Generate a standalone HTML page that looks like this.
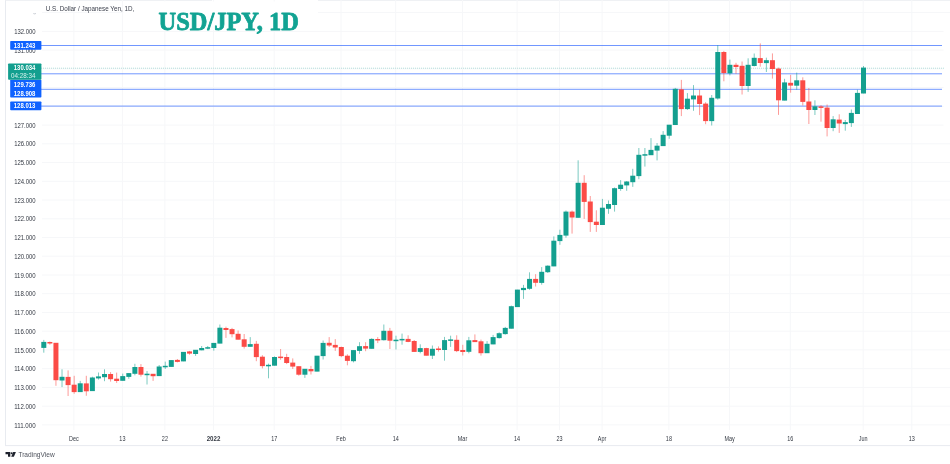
<!DOCTYPE html>
<html><head><meta charset="utf-8"><title>USD/JPY, 1D</title>
<style>html,body{margin:0;padding:0;background:#fff;}body{width:950px;height:464px;overflow:hidden;font-family:"Liberation Sans",sans-serif;}svg{display:block;}text{font-family:"Liberation Sans",sans-serif;}</style>
</head><body>
<svg width="950" height="464" viewBox="0 0 950 464">
<defs><filter id="b" x="0" y="0" width="100%" height="100%" filterUnits="userSpaceOnUse" color-interpolation-filters="sRGB"><feGaussianBlur stdDeviation="0.38"/></filter></defs>
<rect width="950" height="464" fill="#fff"/>
<g filter="url(#b)">
<rect width="950" height="464" fill="#fff"/>
<g stroke="#e8ebf0" stroke-width="1" fill="none">
<line x1="5.5" y1="0" x2="5.5" y2="445.6"/>
<line x1="5" y1="445.6" x2="950" y2="445.6"/>
<line x1="5" y1="0.3" x2="212" y2="0.3" stroke="#eceef2"/>
<line x1="318" y1="0.3" x2="950" y2="0.3" stroke="#eceef2"/>
</g>
<g stroke="#f6f7f9" stroke-width="1">
<line x1="42" y1="424.9" x2="950" y2="424.9"/>
<line x1="42" y1="406.2" x2="950" y2="406.2"/>
<line x1="42" y1="387.4" x2="950" y2="387.4"/>
<line x1="42" y1="368.7" x2="950" y2="368.7"/>
<line x1="42" y1="349.9" x2="950" y2="349.9"/>
<line x1="42" y1="331.2" x2="950" y2="331.2"/>
<line x1="42" y1="312.5" x2="950" y2="312.5"/>
<line x1="42" y1="293.7" x2="950" y2="293.7"/>
<line x1="42" y1="275.0" x2="950" y2="275.0"/>
<line x1="42" y1="256.2" x2="950" y2="256.2"/>
<line x1="42" y1="237.5" x2="950" y2="237.5"/>
<line x1="42" y1="218.8" x2="950" y2="218.8"/>
<line x1="42" y1="200.0" x2="950" y2="200.0"/>
<line x1="42" y1="181.3" x2="950" y2="181.3"/>
<line x1="42" y1="162.5" x2="950" y2="162.5"/>
<line x1="42" y1="143.8" x2="950" y2="143.8"/>
<line x1="42" y1="125.1" x2="943.5" y2="125.1"/>
<line x1="42" y1="106.3" x2="943.5" y2="106.3"/>
<line x1="42" y1="87.6" x2="943.5" y2="87.6"/>
<line x1="42" y1="68.8" x2="943.5" y2="68.8"/>
<line x1="42" y1="50.1" x2="943.5" y2="50.1"/>
<line x1="42" y1="31.4" x2="943.5" y2="31.4"/>
<line x1="42" y1="12.6" x2="950" y2="12.6"/>
<line x1="73.9" y1="0" x2="73.9" y2="430"/>
<line x1="122.4" y1="0" x2="122.4" y2="430"/>
<line x1="164.9" y1="0" x2="164.9" y2="430"/>
<line x1="213.5" y1="0" x2="213.5" y2="430"/>
<line x1="274.2" y1="0" x2="274.2" y2="430"/>
<line x1="341.0" y1="0" x2="341.0" y2="430"/>
<line x1="395.7" y1="0" x2="395.7" y2="430"/>
<line x1="462.5" y1="0" x2="462.5" y2="430"/>
<line x1="517.1" y1="0" x2="517.1" y2="430"/>
<line x1="559.6" y1="0" x2="559.6" y2="430"/>
<line x1="602.1" y1="0" x2="602.1" y2="430"/>
<line x1="668.9" y1="0" x2="668.9" y2="430"/>
<line x1="729.6" y1="0" x2="729.6" y2="430"/>
<line x1="790.3" y1="0" x2="790.3" y2="430"/>
<line x1="863.2" y1="0" x2="863.2" y2="430"/>
<line x1="911.8" y1="0" x2="911.8" y2="430"/>
</g>
<g stroke="#2962ff" stroke-width="1" opacity="0.66">
<line x1="41" y1="45.5" x2="942" y2="45.5"/>
<line x1="41" y1="73.8" x2="942" y2="73.8"/>
<line x1="41" y1="89.3" x2="942" y2="89.3"/>
<line x1="41" y1="106.1" x2="942" y2="106.1"/>
</g>
<line x1="41" y1="68.2" x2="944" y2="68.2" stroke="#139f8f" stroke-width="1" stroke-dasharray="1 1" opacity="0.3"/>
<line x1="43.80" y1="339.9" x2="43.80" y2="352.7" stroke="#139f8f" stroke-width="0.9" opacity="0.62"/>
<rect x="41.30" y="341.9" width="5.0" height="6.0" fill="#139f8f"/>
<line x1="49.87" y1="341.5" x2="49.87" y2="344.7" stroke="#fb4b46" stroke-width="0.9" opacity="0.62"/>
<rect x="47.37" y="342.0" width="5.0" height="1.5" fill="#fb4b46"/>
<line x1="55.94" y1="343.0" x2="55.94" y2="385.8" stroke="#fb4b46" stroke-width="0.9" opacity="0.62"/>
<rect x="53.44" y="342.8" width="5.0" height="37.4" fill="#fb4b46"/>
<line x1="62.02" y1="369.3" x2="62.02" y2="387.1" stroke="#139f8f" stroke-width="0.9" opacity="0.62"/>
<rect x="59.52" y="376.8" width="5.0" height="3.7" fill="#139f8f"/>
<line x1="68.09" y1="370.4" x2="68.09" y2="396.0" stroke="#fb4b46" stroke-width="0.9" opacity="0.62"/>
<rect x="65.59" y="376.9" width="5.0" height="8.2" fill="#fb4b46"/>
<line x1="74.16" y1="375.8" x2="74.16" y2="393.8" stroke="#fb4b46" stroke-width="0.9" opacity="0.62"/>
<rect x="71.66" y="384.7" width="5.0" height="7.4" fill="#fb4b46"/>
<line x1="80.23" y1="380.9" x2="80.23" y2="391.9" stroke="#139f8f" stroke-width="0.9" opacity="0.62"/>
<rect x="77.73" y="383.3" width="5.0" height="8.8" fill="#139f8f"/>
<line x1="86.30" y1="375.8" x2="86.30" y2="395.8" stroke="#fb4b46" stroke-width="0.9" opacity="0.62"/>
<rect x="83.80" y="383.4" width="5.0" height="7.9" fill="#fb4b46"/>
<line x1="92.38" y1="376.7" x2="92.38" y2="390.9" stroke="#139f8f" stroke-width="0.9" opacity="0.62"/>
<rect x="89.88" y="377.5" width="5.0" height="13.6" fill="#139f8f"/>
<line x1="98.45" y1="372.5" x2="98.45" y2="379.6" stroke="#139f8f" stroke-width="0.9" opacity="0.62"/>
<rect x="95.95" y="376.4" width="5.0" height="2.0" fill="#139f8f"/>
<line x1="104.52" y1="369.3" x2="104.52" y2="381.2" stroke="#139f8f" stroke-width="0.9" opacity="0.62"/>
<rect x="102.02" y="374.0" width="5.0" height="3.2" fill="#139f8f"/>
<line x1="110.59" y1="372.1" x2="110.59" y2="381.6" stroke="#fb4b46" stroke-width="0.9" opacity="0.62"/>
<rect x="108.09" y="374.0" width="5.0" height="5.2" fill="#fb4b46"/>
<line x1="116.66" y1="372.6" x2="116.66" y2="382.9" stroke="#fb4b46" stroke-width="0.9" opacity="0.62"/>
<rect x="114.16" y="378.7" width="5.0" height="2.3" fill="#fb4b46"/>
<line x1="122.73" y1="373.6" x2="122.73" y2="380.6" stroke="#139f8f" stroke-width="0.9" opacity="0.62"/>
<rect x="120.23" y="376.1" width="5.0" height="4.7" fill="#139f8f"/>
<line x1="128.81" y1="373.3" x2="128.81" y2="378.8" stroke="#139f8f" stroke-width="0.9" opacity="0.62"/>
<rect x="126.31" y="373.1" width="5.0" height="3.8" fill="#139f8f"/>
<line x1="134.88" y1="363.8" x2="134.88" y2="375.3" stroke="#139f8f" stroke-width="0.9" opacity="0.62"/>
<rect x="132.38" y="367.0" width="5.0" height="6.8" fill="#139f8f"/>
<line x1="140.95" y1="364.1" x2="140.95" y2="376.6" stroke="#fb4b46" stroke-width="0.9" opacity="0.62"/>
<rect x="138.45" y="367.0" width="5.0" height="7.7" fill="#fb4b46"/>
<line x1="147.02" y1="371.0" x2="147.02" y2="384.5" stroke="#139f8f" stroke-width="0.9" opacity="0.62"/>
<rect x="144.52" y="373.7" width="5.0" height="1.5" fill="#139f8f"/>
<line x1="153.09" y1="374.1" x2="153.09" y2="380.9" stroke="#fb4b46" stroke-width="0.9" opacity="0.62"/>
<rect x="150.59" y="373.8" width="5.0" height="2.4" fill="#fb4b46"/>
<line x1="159.17" y1="365.0" x2="159.17" y2="375.9" stroke="#139f8f" stroke-width="0.9" opacity="0.62"/>
<rect x="156.67" y="366.5" width="5.0" height="9.6" fill="#139f8f"/>
<line x1="165.24" y1="361.6" x2="165.24" y2="369.0" stroke="#139f8f" stroke-width="0.9" opacity="0.62"/>
<rect x="162.74" y="365.8" width="5.0" height="1.5" fill="#139f8f"/>
<line x1="171.31" y1="360.3" x2="171.31" y2="366.7" stroke="#139f8f" stroke-width="0.9" opacity="0.62"/>
<rect x="168.81" y="360.1" width="5.0" height="6.8" fill="#139f8f"/>
<line x1="177.38" y1="359.0" x2="177.38" y2="362.4" stroke="#fb4b46" stroke-width="0.9" opacity="0.62"/>
<rect x="174.88" y="359.9" width="5.0" height="2.0" fill="#fb4b46"/>
<line x1="183.45" y1="352.1" x2="183.45" y2="361.2" stroke="#139f8f" stroke-width="0.9" opacity="0.62"/>
<rect x="180.95" y="351.9" width="5.0" height="9.5" fill="#139f8f"/>
<line x1="189.53" y1="350.9" x2="189.53" y2="354.7" stroke="#fb4b46" stroke-width="0.9" opacity="0.62"/>
<rect x="187.03" y="351.4" width="5.0" height="2.2" fill="#fb4b46"/>
<line x1="195.60" y1="350.0" x2="195.60" y2="355.9" stroke="#139f8f" stroke-width="0.9" opacity="0.62"/>
<rect x="193.10" y="349.8" width="5.0" height="4.2" fill="#139f8f"/>
<line x1="201.67" y1="346.0" x2="201.67" y2="350.3" stroke="#139f8f" stroke-width="0.9" opacity="0.62"/>
<rect x="199.17" y="348.0" width="5.0" height="2.3" fill="#139f8f"/>
<line x1="207.74" y1="346.0" x2="207.74" y2="349.1" stroke="#139f8f" stroke-width="0.9" opacity="0.62"/>
<rect x="205.24" y="347.2" width="5.0" height="1.5" fill="#139f8f"/>
<line x1="213.81" y1="343.1" x2="213.81" y2="350.7" stroke="#139f8f" stroke-width="0.9" opacity="0.62"/>
<rect x="211.31" y="342.9" width="5.0" height="5.1" fill="#139f8f"/>
<line x1="219.89" y1="324.5" x2="219.89" y2="343.4" stroke="#139f8f" stroke-width="0.9" opacity="0.62"/>
<rect x="217.39" y="327.7" width="5.0" height="15.9" fill="#139f8f"/>
<line x1="225.96" y1="326.7" x2="225.96" y2="337.9" stroke="#fb4b46" stroke-width="0.9" opacity="0.62"/>
<rect x="223.46" y="328.0" width="5.0" height="2.0" fill="#fb4b46"/>
<line x1="232.03" y1="327.9" x2="232.03" y2="337.4" stroke="#fb4b46" stroke-width="0.9" opacity="0.62"/>
<rect x="229.53" y="329.1" width="5.0" height="5.1" fill="#fb4b46"/>
<line x1="238.10" y1="330.5" x2="238.10" y2="339.5" stroke="#fb4b46" stroke-width="0.9" opacity="0.62"/>
<rect x="235.60" y="333.8" width="5.0" height="5.9" fill="#fb4b46"/>
<line x1="244.17" y1="334.0" x2="244.17" y2="348.6" stroke="#fb4b46" stroke-width="0.9" opacity="0.62"/>
<rect x="241.67" y="339.3" width="5.0" height="7.5" fill="#fb4b46"/>
<line x1="250.24" y1="337.1" x2="250.24" y2="346.6" stroke="#139f8f" stroke-width="0.9" opacity="0.62"/>
<rect x="247.74" y="344.1" width="5.0" height="2.7" fill="#139f8f"/>
<line x1="256.32" y1="340.9" x2="256.32" y2="361.2" stroke="#fb4b46" stroke-width="0.9" opacity="0.62"/>
<rect x="253.82" y="343.8" width="5.0" height="13.3" fill="#fb4b46"/>
<line x1="262.39" y1="355.2" x2="262.39" y2="368.4" stroke="#fb4b46" stroke-width="0.9" opacity="0.62"/>
<rect x="259.89" y="356.7" width="5.0" height="9.4" fill="#fb4b46"/>
<line x1="268.46" y1="363.6" x2="268.46" y2="378.3" stroke="#139f8f" stroke-width="0.9" opacity="0.62"/>
<rect x="265.96" y="364.8" width="5.0" height="1.5" fill="#139f8f"/>
<line x1="274.53" y1="356.4" x2="274.53" y2="365.5" stroke="#139f8f" stroke-width="0.9" opacity="0.62"/>
<rect x="272.03" y="357.0" width="5.0" height="8.7" fill="#139f8f"/>
<line x1="280.60" y1="349.0" x2="280.60" y2="359.8" stroke="#fb4b46" stroke-width="0.9" opacity="0.62"/>
<rect x="278.10" y="356.6" width="5.0" height="1.5" fill="#fb4b46"/>
<line x1="286.68" y1="353.8" x2="286.68" y2="364.1" stroke="#fb4b46" stroke-width="0.9" opacity="0.62"/>
<rect x="284.18" y="357.0" width="5.0" height="6.0" fill="#fb4b46"/>
<line x1="292.75" y1="358.4" x2="292.75" y2="369.0" stroke="#fb4b46" stroke-width="0.9" opacity="0.62"/>
<rect x="290.25" y="362.6" width="5.0" height="4.0" fill="#fb4b46"/>
<line x1="298.82" y1="366.4" x2="298.82" y2="375.7" stroke="#fb4b46" stroke-width="0.9" opacity="0.62"/>
<rect x="296.32" y="366.2" width="5.0" height="8.5" fill="#fb4b46"/>
<line x1="304.89" y1="369.0" x2="304.89" y2="377.9" stroke="#139f8f" stroke-width="0.9" opacity="0.62"/>
<rect x="302.39" y="368.8" width="5.0" height="5.9" fill="#139f8f"/>
<line x1="310.96" y1="365.9" x2="310.96" y2="374.5" stroke="#fb4b46" stroke-width="0.9" opacity="0.62"/>
<rect x="308.46" y="369.0" width="5.0" height="2.3" fill="#fb4b46"/>
<line x1="317.04" y1="355.9" x2="317.04" y2="371.4" stroke="#139f8f" stroke-width="0.9" opacity="0.62"/>
<rect x="314.54" y="355.7" width="5.0" height="15.9" fill="#139f8f"/>
<line x1="323.11" y1="340.5" x2="323.11" y2="359.5" stroke="#139f8f" stroke-width="0.9" opacity="0.62"/>
<rect x="320.61" y="342.9" width="5.0" height="13.2" fill="#139f8f"/>
<line x1="329.18" y1="337.1" x2="329.18" y2="346.9" stroke="#fb4b46" stroke-width="0.9" opacity="0.62"/>
<rect x="326.68" y="342.8" width="5.0" height="2.7" fill="#fb4b46"/>
<line x1="335.25" y1="339.1" x2="335.25" y2="350.9" stroke="#fb4b46" stroke-width="0.9" opacity="0.62"/>
<rect x="332.75" y="344.9" width="5.0" height="2.6" fill="#fb4b46"/>
<line x1="341.32" y1="346.6" x2="341.32" y2="357.2" stroke="#fb4b46" stroke-width="0.9" opacity="0.62"/>
<rect x="338.82" y="347.0" width="5.0" height="9.1" fill="#fb4b46"/>
<line x1="347.40" y1="354.3" x2="347.40" y2="365.3" stroke="#fb4b46" stroke-width="0.9" opacity="0.62"/>
<rect x="344.90" y="355.7" width="5.0" height="5.2" fill="#fb4b46"/>
<line x1="353.47" y1="350.3" x2="353.47" y2="362.4" stroke="#139f8f" stroke-width="0.9" opacity="0.62"/>
<rect x="350.97" y="350.1" width="5.0" height="11.1" fill="#139f8f"/>
<line x1="359.54" y1="342.2" x2="359.54" y2="353.8" stroke="#139f8f" stroke-width="0.9" opacity="0.62"/>
<rect x="357.04" y="346.2" width="5.0" height="4.7" fill="#139f8f"/>
<line x1="365.61" y1="342.2" x2="365.61" y2="351.2" stroke="#fb4b46" stroke-width="0.9" opacity="0.62"/>
<rect x="363.11" y="346.1" width="5.0" height="2.5" fill="#fb4b46"/>
<line x1="371.68" y1="338.3" x2="371.68" y2="348.6" stroke="#139f8f" stroke-width="0.9" opacity="0.62"/>
<rect x="369.18" y="338.9" width="5.0" height="9.9" fill="#139f8f"/>
<line x1="377.75" y1="337.1" x2="377.75" y2="343.1" stroke="#fb4b46" stroke-width="0.9" opacity="0.62"/>
<rect x="375.25" y="339.0" width="5.0" height="1.5" fill="#fb4b46"/>
<line x1="383.83" y1="324.5" x2="383.83" y2="340.5" stroke="#139f8f" stroke-width="0.9" opacity="0.62"/>
<rect x="381.33" y="330.8" width="5.0" height="9.4" fill="#139f8f"/>
<line x1="389.90" y1="327.9" x2="389.90" y2="349.0" stroke="#fb4b46" stroke-width="0.9" opacity="0.62"/>
<rect x="387.40" y="330.8" width="5.0" height="9.9" fill="#fb4b46"/>
<line x1="395.97" y1="335.7" x2="395.97" y2="349.5" stroke="#139f8f" stroke-width="0.9" opacity="0.62"/>
<rect x="393.47" y="339.7" width="5.0" height="1.5" fill="#139f8f"/>
<line x1="402.04" y1="333.6" x2="402.04" y2="344.7" stroke="#139f8f" stroke-width="0.9" opacity="0.62"/>
<rect x="399.54" y="338.9" width="5.0" height="1.5" fill="#139f8f"/>
<line x1="408.11" y1="335.3" x2="408.11" y2="342.2" stroke="#fb4b46" stroke-width="0.9" opacity="0.62"/>
<rect x="405.61" y="338.9" width="5.0" height="3.0" fill="#fb4b46"/>
<line x1="414.19" y1="340.0" x2="414.19" y2="351.7" stroke="#fb4b46" stroke-width="0.9" opacity="0.62"/>
<rect x="411.69" y="341.0" width="5.0" height="10.9" fill="#fb4b46"/>
<line x1="420.26" y1="344.3" x2="420.26" y2="353.3" stroke="#139f8f" stroke-width="0.9" opacity="0.62"/>
<rect x="417.76" y="348.1" width="5.0" height="3.8" fill="#139f8f"/>
<line x1="426.33" y1="347.8" x2="426.33" y2="355.5" stroke="#fb4b46" stroke-width="0.9" opacity="0.62"/>
<rect x="423.83" y="348.1" width="5.0" height="7.6" fill="#fb4b46"/>
<line x1="432.40" y1="345.5" x2="432.40" y2="359.0" stroke="#139f8f" stroke-width="0.9" opacity="0.62"/>
<rect x="429.90" y="348.8" width="5.0" height="6.9" fill="#139f8f"/>
<line x1="438.47" y1="346.4" x2="438.47" y2="351.6" stroke="#fb4b46" stroke-width="0.9" opacity="0.62"/>
<rect x="435.97" y="348.5" width="5.0" height="1.5" fill="#fb4b46"/>
<line x1="444.55" y1="336.9" x2="444.55" y2="360.7" stroke="#139f8f" stroke-width="0.9" opacity="0.62"/>
<rect x="442.05" y="340.1" width="5.0" height="9.9" fill="#139f8f"/>
<line x1="450.62" y1="335.7" x2="450.62" y2="346.9" stroke="#139f8f" stroke-width="0.9" opacity="0.62"/>
<rect x="448.12" y="339.4" width="5.0" height="1.5" fill="#139f8f"/>
<line x1="456.69" y1="335.3" x2="456.69" y2="352.1" stroke="#fb4b46" stroke-width="0.9" opacity="0.62"/>
<rect x="454.19" y="339.8" width="5.0" height="11.3" fill="#fb4b46"/>
<line x1="462.76" y1="344.8" x2="462.76" y2="355.5" stroke="#fb4b46" stroke-width="0.9" opacity="0.62"/>
<rect x="460.26" y="350.0" width="5.0" height="2.0" fill="#fb4b46"/>
<line x1="468.83" y1="336.9" x2="468.83" y2="353.3" stroke="#139f8f" stroke-width="0.9" opacity="0.62"/>
<rect x="466.33" y="340.3" width="5.0" height="11.5" fill="#139f8f"/>
<line x1="474.90" y1="334.4" x2="474.90" y2="341.8" stroke="#fb4b46" stroke-width="0.9" opacity="0.62"/>
<rect x="472.40" y="340.1" width="5.0" height="2.0" fill="#fb4b46"/>
<line x1="480.98" y1="339.6" x2="480.98" y2="355.6" stroke="#fb4b46" stroke-width="0.9" opacity="0.62"/>
<rect x="478.48" y="341.3" width="5.0" height="11.9" fill="#fb4b46"/>
<line x1="487.05" y1="341.1" x2="487.05" y2="353.0" stroke="#139f8f" stroke-width="0.9" opacity="0.62"/>
<rect x="484.55" y="343.8" width="5.0" height="9.4" fill="#139f8f"/>
<line x1="493.12" y1="334.9" x2="493.12" y2="344.2" stroke="#139f8f" stroke-width="0.9" opacity="0.62"/>
<rect x="490.62" y="337.1" width="5.0" height="7.3" fill="#139f8f"/>
<line x1="499.19" y1="332.3" x2="499.19" y2="338.6" stroke="#139f8f" stroke-width="0.9" opacity="0.62"/>
<rect x="496.69" y="333.2" width="5.0" height="4.9" fill="#139f8f"/>
<line x1="505.26" y1="326.9" x2="505.26" y2="334.7" stroke="#139f8f" stroke-width="0.9" opacity="0.62"/>
<rect x="502.76" y="327.9" width="5.0" height="6.2" fill="#139f8f"/>
<line x1="511.34" y1="305.6" x2="511.34" y2="328.5" stroke="#139f8f" stroke-width="0.9" opacity="0.62"/>
<rect x="508.84" y="306.2" width="5.0" height="22.5" fill="#139f8f"/>
<line x1="517.41" y1="289.8" x2="517.41" y2="306.9" stroke="#139f8f" stroke-width="0.9" opacity="0.62"/>
<rect x="514.91" y="289.6" width="5.0" height="17.5" fill="#139f8f"/>
<line x1="523.48" y1="284.9" x2="523.48" y2="298.9" stroke="#139f8f" stroke-width="0.9" opacity="0.62"/>
<rect x="520.98" y="287.9" width="5.0" height="2.2" fill="#139f8f"/>
<line x1="529.55" y1="272.3" x2="529.55" y2="289.8" stroke="#139f8f" stroke-width="0.9" opacity="0.62"/>
<rect x="527.05" y="278.9" width="5.0" height="9.9" fill="#139f8f"/>
<line x1="535.62" y1="274.2" x2="535.62" y2="286.5" stroke="#fb4b46" stroke-width="0.9" opacity="0.62"/>
<rect x="533.12" y="278.9" width="5.0" height="3.9" fill="#fb4b46"/>
<line x1="541.70" y1="267.1" x2="541.70" y2="284.7" stroke="#139f8f" stroke-width="0.9" opacity="0.62"/>
<rect x="539.20" y="271.8" width="5.0" height="11.1" fill="#139f8f"/>
<line x1="547.77" y1="265.3" x2="547.77" y2="273.0" stroke="#139f8f" stroke-width="0.9" opacity="0.62"/>
<rect x="545.27" y="265.7" width="5.0" height="6.5" fill="#139f8f"/>
<line x1="553.84" y1="236.4" x2="553.84" y2="266.2" stroke="#139f8f" stroke-width="0.9" opacity="0.62"/>
<rect x="551.34" y="240.7" width="5.0" height="25.7" fill="#139f8f"/>
<line x1="559.91" y1="229.7" x2="559.91" y2="244.8" stroke="#139f8f" stroke-width="0.9" opacity="0.62"/>
<rect x="557.41" y="234.9" width="5.0" height="6.2" fill="#139f8f"/>
<line x1="565.98" y1="210.5" x2="565.98" y2="237.7" stroke="#139f8f" stroke-width="0.9" opacity="0.62"/>
<rect x="563.48" y="211.6" width="5.0" height="24.0" fill="#139f8f"/>
<line x1="572.06" y1="210.5" x2="572.06" y2="233.6" stroke="#fb4b46" stroke-width="0.9" opacity="0.62"/>
<rect x="569.56" y="211.6" width="5.0" height="5.9" fill="#fb4b46"/>
<line x1="578.13" y1="160.3" x2="578.13" y2="217.6" stroke="#139f8f" stroke-width="0.9" opacity="0.62"/>
<rect x="575.63" y="182.8" width="5.0" height="35.0" fill="#139f8f"/>
<line x1="584.20" y1="175.2" x2="584.20" y2="218.9" stroke="#fb4b46" stroke-width="0.9" opacity="0.62"/>
<rect x="581.70" y="182.8" width="5.0" height="19.1" fill="#fb4b46"/>
<line x1="590.27" y1="196.0" x2="590.27" y2="231.9" stroke="#fb4b46" stroke-width="0.9" opacity="0.62"/>
<rect x="587.77" y="201.5" width="5.0" height="20.6" fill="#fb4b46"/>
<line x1="596.34" y1="210.3" x2="596.34" y2="231.9" stroke="#fb4b46" stroke-width="0.9" opacity="0.62"/>
<rect x="593.84" y="221.7" width="5.0" height="3.3" fill="#fb4b46"/>
<line x1="602.41" y1="198.9" x2="602.41" y2="224.8" stroke="#139f8f" stroke-width="0.9" opacity="0.62"/>
<rect x="599.91" y="207.7" width="5.0" height="17.3" fill="#139f8f"/>
<line x1="608.49" y1="200.5" x2="608.49" y2="213.8" stroke="#139f8f" stroke-width="0.9" opacity="0.62"/>
<rect x="605.99" y="204.0" width="5.0" height="4.8" fill="#139f8f"/>
<line x1="614.56" y1="187.5" x2="614.56" y2="211.6" stroke="#139f8f" stroke-width="0.9" opacity="0.62"/>
<rect x="612.06" y="188.2" width="5.0" height="16.8" fill="#139f8f"/>
<line x1="620.63" y1="180.1" x2="620.63" y2="190.8" stroke="#139f8f" stroke-width="0.9" opacity="0.62"/>
<rect x="618.13" y="184.7" width="5.0" height="4.3" fill="#139f8f"/>
<line x1="626.70" y1="181.0" x2="626.70" y2="190.8" stroke="#139f8f" stroke-width="0.9" opacity="0.62"/>
<rect x="624.20" y="181.5" width="5.0" height="3.9" fill="#139f8f"/>
<line x1="632.77" y1="168.8" x2="632.77" y2="186.9" stroke="#139f8f" stroke-width="0.9" opacity="0.62"/>
<rect x="630.27" y="175.7" width="5.0" height="6.5" fill="#139f8f"/>
<line x1="638.85" y1="148.0" x2="638.85" y2="179.2" stroke="#139f8f" stroke-width="0.9" opacity="0.62"/>
<rect x="636.35" y="154.8" width="5.0" height="21.3" fill="#139f8f"/>
<line x1="644.92" y1="148.0" x2="644.92" y2="166.6" stroke="#139f8f" stroke-width="0.9" opacity="0.62"/>
<rect x="642.42" y="154.2" width="5.0" height="1.5" fill="#139f8f"/>
<line x1="650.99" y1="138.1" x2="650.99" y2="155.0" stroke="#139f8f" stroke-width="0.9" opacity="0.62"/>
<rect x="648.49" y="149.9" width="5.0" height="5.3" fill="#139f8f"/>
<line x1="657.06" y1="143.0" x2="657.06" y2="160.4" stroke="#139f8f" stroke-width="0.9" opacity="0.62"/>
<rect x="654.56" y="145.7" width="5.0" height="4.9" fill="#139f8f"/>
<line x1="663.13" y1="131.1" x2="663.13" y2="145.9" stroke="#139f8f" stroke-width="0.9" opacity="0.62"/>
<rect x="660.63" y="134.8" width="5.0" height="11.3" fill="#139f8f"/>
<line x1="669.21" y1="124.9" x2="669.21" y2="138.8" stroke="#139f8f" stroke-width="0.9" opacity="0.62"/>
<rect x="666.71" y="124.7" width="5.0" height="11.0" fill="#139f8f"/>
<line x1="675.28" y1="87.9" x2="675.28" y2="124.8" stroke="#139f8f" stroke-width="0.9" opacity="0.62"/>
<rect x="672.78" y="88.8" width="5.0" height="36.2" fill="#139f8f"/>
<line x1="681.35" y1="79.9" x2="681.35" y2="116.1" stroke="#fb4b46" stroke-width="0.9" opacity="0.62"/>
<rect x="678.85" y="89.3" width="5.0" height="19.8" fill="#fb4b46"/>
<line x1="687.42" y1="93.1" x2="687.42" y2="109.9" stroke="#139f8f" stroke-width="0.9" opacity="0.62"/>
<rect x="684.92" y="98.7" width="5.0" height="10.4" fill="#139f8f"/>
<line x1="693.49" y1="85.1" x2="693.49" y2="110.8" stroke="#139f8f" stroke-width="0.9" opacity="0.62"/>
<rect x="690.99" y="95.5" width="5.0" height="3.9" fill="#139f8f"/>
<line x1="699.57" y1="89.6" x2="699.57" y2="115.1" stroke="#fb4b46" stroke-width="0.9" opacity="0.62"/>
<rect x="697.07" y="95.5" width="5.0" height="8.5" fill="#fb4b46"/>
<line x1="705.64" y1="102.2" x2="705.64" y2="124.2" stroke="#fb4b46" stroke-width="0.9" opacity="0.62"/>
<rect x="703.14" y="103.6" width="5.0" height="17.5" fill="#fb4b46"/>
<line x1="711.71" y1="95.0" x2="711.71" y2="125.5" stroke="#139f8f" stroke-width="0.9" opacity="0.62"/>
<rect x="709.21" y="97.8" width="5.0" height="23.3" fill="#139f8f"/>
<line x1="717.78" y1="45.1" x2="717.78" y2="99.6" stroke="#139f8f" stroke-width="0.9" opacity="0.62"/>
<rect x="715.28" y="52.0" width="5.0" height="46.5" fill="#139f8f"/>
<line x1="723.85" y1="50.9" x2="723.85" y2="81.3" stroke="#fb4b46" stroke-width="0.9" opacity="0.62"/>
<rect x="721.35" y="52.0" width="5.0" height="21.1" fill="#fb4b46"/>
<line x1="729.92" y1="59.6" x2="729.92" y2="75.4" stroke="#139f8f" stroke-width="0.9" opacity="0.62"/>
<rect x="727.42" y="64.8" width="5.0" height="8.6" fill="#139f8f"/>
<line x1="736.00" y1="62.8" x2="736.00" y2="73.8" stroke="#fb4b46" stroke-width="0.9" opacity="0.62"/>
<rect x="733.50" y="64.8" width="5.0" height="2.2" fill="#fb4b46"/>
<line x1="742.07" y1="61.5" x2="742.07" y2="94.5" stroke="#fb4b46" stroke-width="0.9" opacity="0.62"/>
<rect x="739.57" y="65.8" width="5.0" height="20.2" fill="#fb4b46"/>
<line x1="748.14" y1="58.3" x2="748.14" y2="91.9" stroke="#139f8f" stroke-width="0.9" opacity="0.62"/>
<rect x="745.64" y="64.8" width="5.0" height="21.2" fill="#139f8f"/>
<line x1="754.21" y1="53.5" x2="754.21" y2="66.4" stroke="#139f8f" stroke-width="0.9" opacity="0.62"/>
<rect x="751.71" y="57.8" width="5.0" height="8.2" fill="#139f8f"/>
<line x1="760.28" y1="43.4" x2="760.28" y2="66.7" stroke="#fb4b46" stroke-width="0.9" opacity="0.62"/>
<rect x="757.78" y="58.1" width="5.0" height="4.9" fill="#fb4b46"/>
<line x1="766.36" y1="57.7" x2="766.36" y2="72.0" stroke="#139f8f" stroke-width="0.9" opacity="0.62"/>
<rect x="763.86" y="60.2" width="5.0" height="2.9" fill="#139f8f"/>
<line x1="772.43" y1="53.4" x2="772.43" y2="78.6" stroke="#fb4b46" stroke-width="0.9" opacity="0.62"/>
<rect x="769.93" y="60.2" width="5.0" height="8.8" fill="#fb4b46"/>
<line x1="778.50" y1="67.6" x2="778.50" y2="114.9" stroke="#fb4b46" stroke-width="0.9" opacity="0.62"/>
<rect x="776.00" y="68.6" width="5.0" height="31.7" fill="#fb4b46"/>
<line x1="784.57" y1="78.8" x2="784.57" y2="100.4" stroke="#139f8f" stroke-width="0.9" opacity="0.62"/>
<rect x="782.07" y="82.4" width="5.0" height="18.2" fill="#139f8f"/>
<line x1="790.64" y1="74.9" x2="790.64" y2="92.7" stroke="#fb4b46" stroke-width="0.9" opacity="0.62"/>
<rect x="788.14" y="82.8" width="5.0" height="2.8" fill="#fb4b46"/>
<line x1="796.72" y1="72.6" x2="796.72" y2="89.8" stroke="#139f8f" stroke-width="0.9" opacity="0.62"/>
<rect x="794.22" y="80.3" width="5.0" height="5.4" fill="#139f8f"/>
<line x1="802.79" y1="77.3" x2="802.79" y2="105.5" stroke="#fb4b46" stroke-width="0.9" opacity="0.62"/>
<rect x="800.29" y="80.3" width="5.0" height="21.6" fill="#fb4b46"/>
<line x1="808.86" y1="88.0" x2="808.86" y2="124.0" stroke="#fb4b46" stroke-width="0.9" opacity="0.62"/>
<rect x="806.36" y="101.5" width="5.0" height="8.5" fill="#fb4b46"/>
<line x1="814.93" y1="100.3" x2="814.93" y2="115.0" stroke="#139f8f" stroke-width="0.9" opacity="0.62"/>
<rect x="812.43" y="106.3" width="5.0" height="3.7" fill="#139f8f"/>
<line x1="821.00" y1="105.2" x2="821.00" y2="121.7" stroke="#fb4b46" stroke-width="0.9" opacity="0.62"/>
<rect x="818.50" y="106.4" width="5.0" height="1.5" fill="#fb4b46"/>
<line x1="827.08" y1="104.5" x2="827.08" y2="136.4" stroke="#fb4b46" stroke-width="0.9" opacity="0.62"/>
<rect x="824.58" y="107.6" width="5.0" height="20.4" fill="#fb4b46"/>
<line x1="833.15" y1="116.1" x2="833.15" y2="131.2" stroke="#139f8f" stroke-width="0.9" opacity="0.62"/>
<rect x="830.65" y="119.3" width="5.0" height="8.7" fill="#139f8f"/>
<line x1="839.22" y1="114.3" x2="839.22" y2="132.9" stroke="#fb4b46" stroke-width="0.9" opacity="0.62"/>
<rect x="836.72" y="119.6" width="5.0" height="3.9" fill="#fb4b46"/>
<line x1="845.29" y1="120.0" x2="845.29" y2="130.7" stroke="#139f8f" stroke-width="0.9" opacity="0.62"/>
<rect x="842.79" y="122.1" width="5.0" height="2.0" fill="#139f8f"/>
<line x1="851.36" y1="109.5" x2="851.36" y2="126.9" stroke="#139f8f" stroke-width="0.9" opacity="0.62"/>
<rect x="848.86" y="112.9" width="5.0" height="10.2" fill="#139f8f"/>
<line x1="857.43" y1="89.7" x2="857.43" y2="113.8" stroke="#139f8f" stroke-width="0.9" opacity="0.62"/>
<rect x="854.93" y="92.9" width="5.0" height="21.1" fill="#139f8f"/>
<line x1="863.51" y1="66.0" x2="863.51" y2="93.3" stroke="#139f8f" stroke-width="0.9" opacity="0.62"/>
<rect x="861.01" y="67.6" width="5.0" height="25.9" fill="#139f8f"/>
<g font-size="7" fill="#333842" text-anchor="end">
<text x="35.6" y="427.5" textLength="21.4" lengthAdjust="spacingAndGlyphs">111.000</text>
<text x="35.6" y="408.8" textLength="21.4" lengthAdjust="spacingAndGlyphs">112.000</text>
<text x="35.6" y="390.0" textLength="21.4" lengthAdjust="spacingAndGlyphs">113.000</text>
<text x="35.6" y="371.3" textLength="21.4" lengthAdjust="spacingAndGlyphs">114.000</text>
<text x="35.6" y="352.5" textLength="21.4" lengthAdjust="spacingAndGlyphs">115.000</text>
<text x="35.6" y="333.8" textLength="21.4" lengthAdjust="spacingAndGlyphs">116.000</text>
<text x="35.6" y="315.1" textLength="21.4" lengthAdjust="spacingAndGlyphs">117.000</text>
<text x="35.6" y="296.3" textLength="21.4" lengthAdjust="spacingAndGlyphs">118.000</text>
<text x="35.6" y="277.6" textLength="21.4" lengthAdjust="spacingAndGlyphs">119.000</text>
<text x="35.6" y="258.8" textLength="21.4" lengthAdjust="spacingAndGlyphs">120.000</text>
<text x="35.6" y="240.1" textLength="21.4" lengthAdjust="spacingAndGlyphs">121.000</text>
<text x="35.6" y="221.4" textLength="21.4" lengthAdjust="spacingAndGlyphs">122.000</text>
<text x="35.6" y="202.6" textLength="21.4" lengthAdjust="spacingAndGlyphs">123.000</text>
<text x="35.6" y="183.9" textLength="21.4" lengthAdjust="spacingAndGlyphs">124.000</text>
<text x="35.6" y="165.1" textLength="21.4" lengthAdjust="spacingAndGlyphs">125.000</text>
<text x="35.6" y="146.4" textLength="21.4" lengthAdjust="spacingAndGlyphs">126.000</text>
<text x="35.6" y="127.7" textLength="21.4" lengthAdjust="spacingAndGlyphs">127.000</text>
<text x="35.6" y="108.9" textLength="21.4" lengthAdjust="spacingAndGlyphs">128.000</text>
<text x="35.6" y="90.2" textLength="21.4" lengthAdjust="spacingAndGlyphs">129.000</text>
<text x="35.6" y="71.4" textLength="21.4" lengthAdjust="spacingAndGlyphs">130.000</text>
<text x="35.6" y="52.7" textLength="21.4" lengthAdjust="spacingAndGlyphs">131.000</text>
<text x="35.6" y="34.0" textLength="21.4" lengthAdjust="spacingAndGlyphs">132.000</text>
</g>
<text transform="translate(73.9,440.7) scale(0.84,1)" font-size="6.5" fill="#333842" text-anchor="middle">Dec</text>
<text transform="translate(122.4,440.7) scale(0.84,1)" font-size="6.5" fill="#333842" text-anchor="middle">13</text>
<text transform="translate(164.9,440.7) scale(0.84,1)" font-size="6.5" fill="#333842" text-anchor="middle">22</text>
<text transform="translate(213.5,440.7) scale(0.95,1)" font-size="6.5" fill="#333842" text-anchor="middle" font-weight="bold">2022</text>
<text transform="translate(274.2,440.7) scale(0.84,1)" font-size="6.5" fill="#333842" text-anchor="middle">17</text>
<text transform="translate(341.0,440.7) scale(0.84,1)" font-size="6.5" fill="#333842" text-anchor="middle">Feb</text>
<text transform="translate(395.7,440.7) scale(0.84,1)" font-size="6.5" fill="#333842" text-anchor="middle">14</text>
<text transform="translate(462.5,440.7) scale(0.84,1)" font-size="6.5" fill="#333842" text-anchor="middle">Mar</text>
<text transform="translate(517.1,440.7) scale(0.84,1)" font-size="6.5" fill="#333842" text-anchor="middle">14</text>
<text transform="translate(559.6,440.7) scale(0.84,1)" font-size="6.5" fill="#333842" text-anchor="middle">23</text>
<text transform="translate(602.1,440.7) scale(0.84,1)" font-size="6.5" fill="#333842" text-anchor="middle">Apr</text>
<text transform="translate(668.9,440.7) scale(0.84,1)" font-size="6.5" fill="#333842" text-anchor="middle">18</text>
<text transform="translate(729.6,440.7) scale(0.84,1)" font-size="6.5" fill="#333842" text-anchor="middle">May</text>
<text transform="translate(790.3,440.7) scale(0.84,1)" font-size="6.5" fill="#333842" text-anchor="middle">16</text>
<text transform="translate(863.2,440.7) scale(0.84,1)" font-size="6.5" fill="#333842" text-anchor="middle">Jun</text>
<text transform="translate(911.8,440.7) scale(0.84,1)" font-size="6.5" fill="#333842" text-anchor="middle">13</text>
<rect x="10.2" y="41.0" width="31.2" height="8.8" fill="#0f62ff" rx="0.8"/>
<text x="35.4" y="47.9" font-size="7" font-weight="bold" fill="#fff" text-anchor="end" textLength="21.6" lengthAdjust="spacingAndGlyphs">131.243</text>
<rect x="10.2" y="79.7" width="31.2" height="17.9" fill="#0f62ff" rx="0.8"/>
<rect x="10.2" y="101.5" width="31.2" height="8.8" fill="#0f62ff" rx="0.8"/>
<text x="35.4" y="108.4" font-size="7" font-weight="bold" fill="#fff" text-anchor="end" textLength="21.6" lengthAdjust="spacingAndGlyphs">128.013</text>
<text x="35.4" y="86.7" font-size="7" font-weight="bold" fill="#fff" text-anchor="end" textLength="21.6" lengthAdjust="spacingAndGlyphs">129.736</text>
<text x="35.4" y="95.8" font-size="7" font-weight="bold" fill="#fff" text-anchor="end" textLength="21.6" lengthAdjust="spacingAndGlyphs">128.908</text>
<rect x="8.1" y="63.4" width="33.3" height="16.4" fill="#139f8f" rx="0.8"/>
<text x="35.4" y="70.4" font-size="7" font-weight="bold" fill="#fff" text-anchor="end" textLength="21.6" lengthAdjust="spacingAndGlyphs">130.034</text>
<text x="35.6" y="78.2" font-size="6.6" fill="#d8f3ef" text-anchor="end" textLength="24.5" lengthAdjust="spacingAndGlyphs">04:28:34</text>
<rect x="123.5" y="1.5" width="194.5" height="28.5" fill="#fff"/>
<text x="45.7" y="10.6" font-size="7" fill="#3a3e4a" textLength="88.6" lengthAdjust="spacingAndGlyphs">U.S. Dollar / Japanese Yen, 1D,</text>
<path d="M33.6 13.2 L34.6 14.2 L35.6 13.2" stroke="#9aa0ad" stroke-width="0.7" fill="none"/>
<text x="158.5" y="29.7" font-family="Liberation Serif" font-size="25.4" font-weight="bold" fill="#12a393" stroke="#12a393" stroke-width="0.8" stroke-linejoin="round" textLength="140.4" lengthAdjust="spacingAndGlyphs" style="font-family:'Liberation Serif',serif">USD/JPY, 1D</text>
<g fill="#1e222d">
<path d="M5.5 452.1 H10.3 V456.8 H8.0 V454.2 H5.5 Z"/>
<circle cx="11.7" cy="453.2" r="1.05"/>
<path d="M13.2 452.1 H15.9 L13.9 456.8 H11.2 Z"/>
</g>
<text x="18.4" y="457.4" font-size="7.2" fill="#4f535d" textLength="36.3" lengthAdjust="spacingAndGlyphs">TradingView</text>
</g>
</svg>
</body></html>
